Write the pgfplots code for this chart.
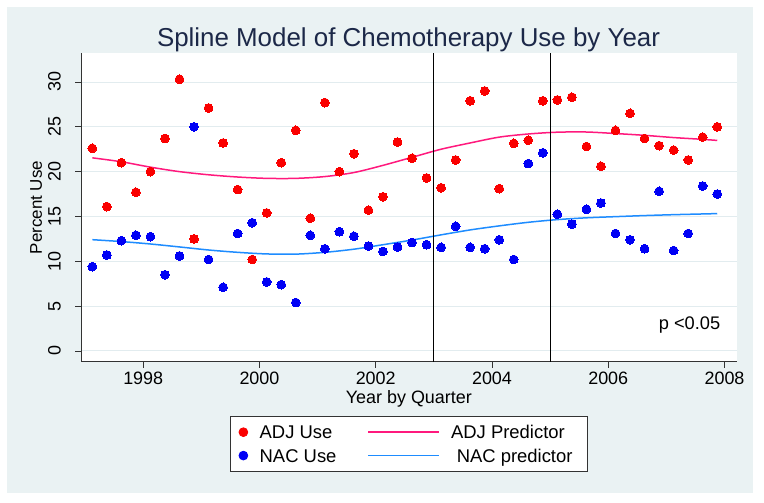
\documentclass[border=0pt]{standalone}
\usepackage{fontspec}
\setmainfont{Liberation Sans}
\usepackage{pgfplots}
\usepackage{pgfplotstable}
\pgfplotsset{compat=1.18}
\definecolor{bgc}{RGB}{234,242,243}
\definecolor{gridc}{RGB}{226,236,239}
\definecolor{adjline}{RGB}{255,25,125}
\definecolor{nacline}{RGB}{30,140,255}
\definecolor{titlec}{RGB}{28,40,72}
\definecolor{adjdot}{RGB}{250,0,0}
\definecolor{nacdot}{RGB}{0,0,245}

\pgfplotstableread{
x adj nac
1997.125 22.6 9.4
1997.375 16.1 10.7
1997.625 21.0 12.3
1997.875 17.7 12.9
1998.125 20.0 12.75
1998.375 23.7 8.5
1998.625 30.3 10.6
1998.875 12.5 25.0
1999.125 27.1 10.2
1999.375 23.2 7.1
1999.625 18.0 13.1
1999.875 10.2 14.3
2000.125 15.4 7.7
2000.375 21.0 7.4
2000.625 24.6 5.4
2000.875 14.8 12.9
2001.125 27.7 11.4
2001.375 20.0 13.3
2001.625 22.0 12.8
2001.875 15.7 11.7
2002.125 17.2 11.1
2002.375 23.3 11.6
2002.625 21.5 12.1
2002.875 19.3 11.85
2003.125 18.2 11.55
2003.375 21.3 13.9
2003.625 27.9 11.55
2003.875 29.0 11.4
2004.125 18.1 12.4
2004.375 23.15 10.2
2004.625 23.5 20.9
2004.875 27.9 22.1
2005.125 28.0 15.25
2005.375 28.3 14.15
2005.625 22.8 15.8
2005.875 20.6 16.5
2006.125 24.6 13.1
2006.375 26.5 12.4
2006.625 23.7 11.4
2006.875 22.9 17.8
2007.125 22.4 11.2
2007.375 21.3 13.1
2007.625 23.85 18.4
2007.875 25.0 17.5
}\usedata

\pgfplotstableread{
x adjp nacp
1997.125 21.54 12.41
1997.625 21.10 12.20
1998.125 20.50 11.93
1998.625 20.00 11.60
1999.125 19.65 11.26
1999.625 19.40 11.00
2000.125 19.25 10.82
2000.625 19.25 10.80
2001.125 19.45 11.00
2001.625 19.90 11.35
2002.125 20.70 11.85
2002.625 21.60 12.37
2003.125 22.50 12.95
2003.625 23.20 13.50
2004.125 23.85 13.95
2004.625 24.20 14.35
2005.125 24.40 14.65
2005.625 24.42 14.85
2006.125 24.25 14.98
2006.625 24.05 15.10
2007.125 23.80 15.20
2007.625 23.60 15.28
2007.875 23.48 15.32
}\predata

\begin{document}
\begin{tikzpicture}[x=1bp,y=1bp]
\fill[white] (0,0) rectangle (764,-503);
\fill[bgc] (7,-7) rectangle (753,-493);
\node[font=\fontsize{26}{30}\selectfont, text=titlec, anchor=base, inner sep=0pt] at (408.5,-46.7) {Spline Model of Chemotherapy Use by Year};
\begin{axis}[
  at={(81bp,-361.7bp)}, anchor=south west,
  scale only axis, width=655.7bp, height=308.4bp,
  xmin=1996.93, xmax=2008.21, ymin=-1.2, ymax=33.2,
  axis background/.style={fill=white},
  axis x line*=bottom, axis y line*=left,
  axis line style={-, line width=0.8bp, black!80},
  xtick={1998,2000,...,2008}, ytick={0,5,...,30},
  tick align=outside, major tick length=6bp,
  tick style={black!80, line width=0.8bp},
  ymajorgrids, grid style={gridc, line width=0.9bp},
  /pgf/number format/assume math mode=true,
  /pgf/number format/1000 sep={},
  ticklabel style={font=\fontsize{18}{21}\selectfont},
  xticklabel style={anchor=north, inner sep=0pt, yshift=-4.5bp},
  yticklabel style={rotate=90, anchor=south, inner sep=0pt, yshift=14bp},
  xlabel={Year by Quarter},
  xlabel style={font=\fontsize{18}{21}\selectfont, anchor=base, inner sep=0pt, at={(axis description cs:0.5,-0.1346)}},
  ylabel={Percent Use},
  ylabel style={font=\fontsize{17}{20}\selectfont, anchor=base, inner sep=0pt, at={(axis description cs:-0.0595,0.5)}},
  legend columns=2,
  legend cell align=left,
  legend style={at={(0.2272,-0.176)}, anchor=north west, draw=black!80, line width=0.8bp, fill=white,
    inner xsep=8.2bp, inner ysep=9.2bp, font=\fontsize{18.5}{22}\selectfont,
    column sep=11.5bp, /tikz/every even column/.append style={column sep=31bp}, row sep=10.2bp,
    nodes={inner sep=0pt, text height=13.2bp, text depth=0pt}},
]
\addplot[color=adjdot, only marks, mark=*, mark size=4.4bp, mark options={draw=adjdot, fill=adjdot, line width=0pt},
  legend image code/.code={\fill[adjdot] (4.5bp,0bp) circle (4.4bp);}] table[x=x, y=adj] {\usedata};
\addlegendentry{ADJ Use}
\addplot[adjline, line width=1.5bp, smooth, no marks,
  legend image code/.code={\draw[adjline, line width=1.5bp] (0bp,0bp) -- (70.6bp,0bp);}] table[x=x, y=adjp] {\predata};
\addlegendentry{ADJ Predictor}
\addplot[color=nacdot, only marks, mark=*, mark size=4.4bp, mark options={draw=nacdot, fill=nacdot, line width=0pt},
  legend image code/.code={\fill[nacdot] (4.5bp,0bp) circle (4.4bp);}] table[x=x, y=nac] {\usedata};
\addlegendentry{NAC Use}
\addplot[nacline, line width=1.5bp, smooth, no marks,
  legend image code/.code={\draw[nacline, line width=1.5bp] (0bp,0bp) -- (70.6bp,0bp);}] table[x=x, y=nacp] {\predata};
\addlegendentry{\hspace*{5.7bp}NAC predictor\hspace*{7bp}}
\addplot[black, line width=1.2bp, forget plot] coordinates {(2003,-1.2) (2003,33.2)};
\addplot[black, line width=1.2bp, forget plot] coordinates {(2005,-1.2) (2005,33.2)};
\node[anchor=base east, inner sep=0pt, font=\fontsize{18.3}{21}\selectfont] at (axis cs:2007.93,2.36) {p <0.05};
\end{axis}
\end{tikzpicture}
\end{document}
